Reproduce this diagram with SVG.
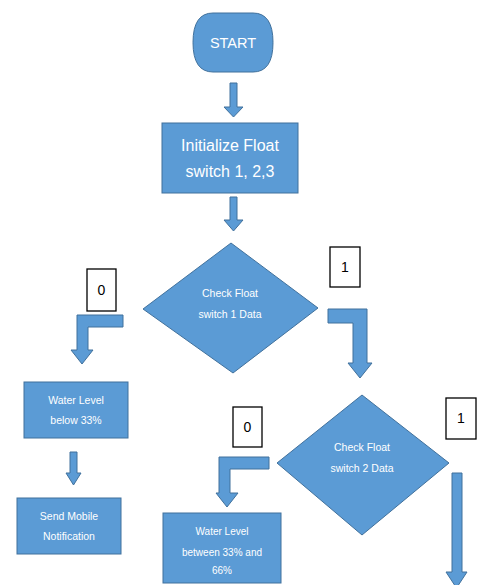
<svg xmlns="http://www.w3.org/2000/svg" width="477" height="585" viewBox="0 0 477 585">
<style>
.s{fill:#5B9BD5;stroke:#41719C;stroke-width:1}
.t{fill:#ffffff;font-family:"Liberation Sans",Arial,sans-serif;text-anchor:middle}
.lb{fill:#ffffff;stroke:#000000;stroke-width:1.3}
.lt{fill:#000000;font-family:"Liberation Sans",Arial,sans-serif;font-size:14px;text-anchor:middle}
</style>
<rect width="477" height="585" fill="#ffffff"/>
<g id="connectors">
<polygon class="s" points="230,83 237,83 237,107 243,107 233.5,117 224,107 230,107"/>
<polygon class="s" points="230,197 237,197 237,220 243,220 233.5,231 224,220 230,220"/>
<polygon class="s" points="123,315 77,315 77,350 71,350 82,364 93,350 88,350 88,327 123,327"/>
<polygon class="s" points="70,452 77,452 77,473 81,473 73.5,485 66,473 70,473"/>
<polygon class="s" points="328,309 367,309 367,363 372,363 360,378 348,363 353,363 353,323 328,323"/>
<polygon class="s" points="269,457 219,457 219,493 216,493 227,507 238,493 230,493 230,469 269,469"/>
<polygon class="s" points="452,473 462,473 462,572 467,572 456.5,588 446,572 452,572"/>
</g>
<g id="start">
<path class="s" d="M213,13 H253 Q273,13 273,42.5 Q273,72 253,72 H213 Q193,72 193,42.5 Q193,13 213,13 Z"/>
<text class="t" x="233" y="48" font-size="14.5">START</text>
</g>
<g id="init">
<rect class="s" x="162" y="123" width="136" height="70"/>
<text class="t" x="230" y="151" font-size="16">Initialize Float</text>
<text class="t" x="230" y="177" font-size="16">switch 1, 2,3</text>
</g>
<g id="check1">
<polygon class="s" points="231,243 318,308 233,373 143,309"/>
<text class="t" x="230" y="297" font-size="10.5">Check Float</text>
<text class="t" x="230" y="318" font-size="10.5">switch 1 Data</text>
</g>
<g id="label1a">
<rect class="lb" x="87" y="269" width="29" height="42"/>
<text class="lt" x="101.5" y="295">0</text>
</g>
<g id="label1b">
<rect class="lb" x="330" y="247" width="30" height="40"/>
<text class="lt" x="345" y="272">1</text>
</g>
<g id="below33">
<rect class="s" x="24" y="382" width="104" height="56"/>
<text class="t" x="76" y="404" font-size="10.5">Water Level</text>
<text class="t" x="76" y="424" font-size="10.5">below 33%</text>
</g>
<g id="notify">
<rect class="s" x="17" y="498" width="104" height="56"/>
<text class="t" x="69" y="520" font-size="10.5">Send Mobile</text>
<text class="t" x="69" y="540" font-size="10.5">Notification</text>
</g>
<g id="check2">
<polygon class="s" points="362,395 449,463 362,535 277,463"/>
<text class="t" x="362" y="451" font-size="10.5">Check Float</text>
<text class="t" x="362" y="472" font-size="10.5">switch 2 Data</text>
</g>
<g id="label2a">
<rect class="lb" x="233" y="407" width="29" height="40"/>
<text class="lt" x="247.5" y="432">0</text>
</g>
<g id="label2b">
<rect class="lb" x="446" y="398" width="30" height="41"/>
<text class="lt" x="461" y="423">1</text>
</g>
<g id="between">
<rect class="s" x="163" y="513" width="118" height="70"/>
<text class="t" x="222" y="535" font-size="10">Water Level</text>
<text class="t" x="222" y="556" font-size="10">between 33% and</text>
<text class="t" x="222" y="574" font-size="10">66%</text>
</g>
</svg>
